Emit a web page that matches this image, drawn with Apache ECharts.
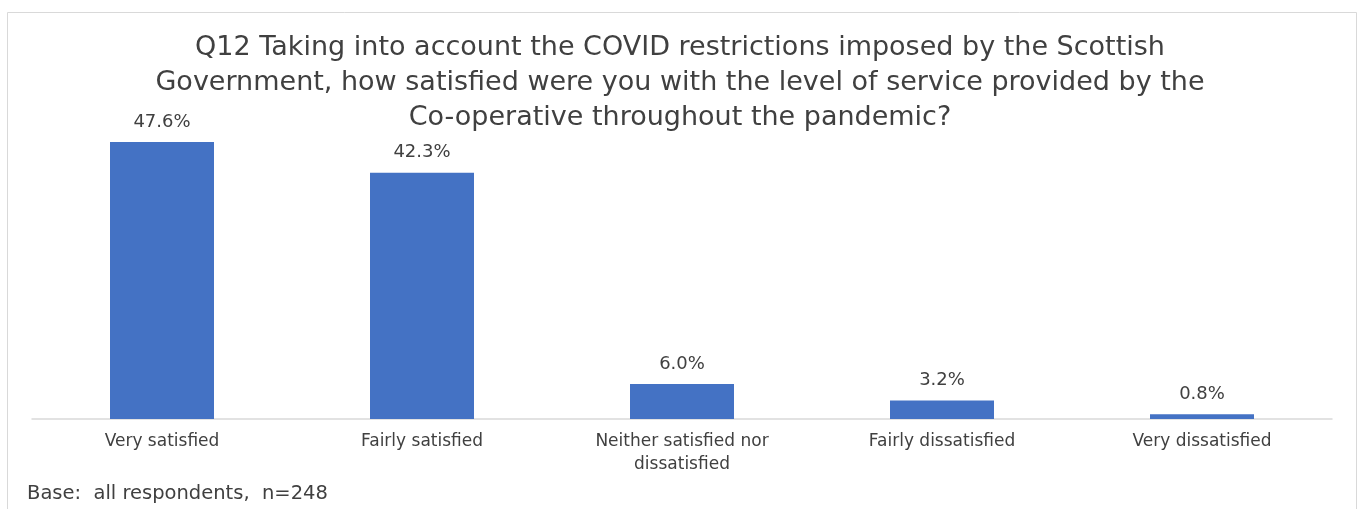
<!DOCTYPE html>
<html>
<head>
<meta charset="utf-8">
<script src="https://cdn.jsdelivr.net/npm/echarts@6/dist/echarts.min.js"></script>
<style>
  html, body { margin: 0; padding: 0; background: #ffffff; }
  #chart { width: 1360px; height: 509px; }
</style>
</head>
<body>
<div id="chart"></div>
<script>
// Survey response categories and percentage shares
const categories = [
  'Very satisfied',
  'Fairly satisfied',
  'Neither satisfied nor\ndissatisfied',
  'Fairly dissatisfied',
  'Very dissatisfied'
];
const shares = [47.6, 42.3, 6.0, 3.2, 0.8];

const titleText = 'Q12 Taking into account the COVID restrictions imposed by the Scottish\n' +
  'Government, how satisfied were you with the level of service provided by the\n' +
  'Co-operative throughout the pandemic?';
const baseNote = 'Base:  all respondents,  n=248';

const FONT = '"DejaVu Sans", sans-serif';
const TEXT = '#404040';

const chart = echarts.init(document.getElementById('chart'));
chart.setOption({
  animation: false,
  backgroundColor: '#ffffff',
  title: {
    text: titleText,
    left: 'center',
    top: 25,
    textStyle: {
      fontFamily: FONT,
      fontSize: 27,
      fontWeight: 'normal',
      color: TEXT,
      lineHeight: 35
    }
  },
  graphic: [
    {
      type: 'rect',
      shape: { x: 7.5, y: 12.5, width: 1349, height: 520 },
      style: { fill: 'none', stroke: '#d9d9d9', lineWidth: 1 },
      z: -1
    },
    {
      type: 'text',
      left: 27,
      top: 484,
      style: {
        text: baseNote,
        fontFamily: FONT,
        fontSize: 19.5,
        fill: TEXT
      }
    }
  ],
  grid: { left: 32, width: 1300, top: 128, height: 291 },
  xAxis: {
    type: 'category',
    data: categories,
    axisTick: { show: false },
    axisLine: { lineStyle: { color: '#d9d9d9', width: 1.5 } },
    axisLabel: {
      interval: 0,
      color: TEXT,
      fontFamily: FONT,
      fontSize: 17,
      lineHeight: 23,
      margin: 11
    }
  },
  yAxis: {
    type: 'value',
    min: 0,
    max: 50,
    show: false
  },
  series: [{
    type: 'bar',
    data: shares,
    barWidth: '40%',
    itemStyle: { color: '#4472c4' },
    label: {
      show: true,
      position: 'top',
      distance: 11,
      color: TEXT,
      fontFamily: FONT,
      fontSize: 18,
      formatter: p => p.value.toFixed(1) + '%'
    }
  }]
});
</script>
</body>
</html>
